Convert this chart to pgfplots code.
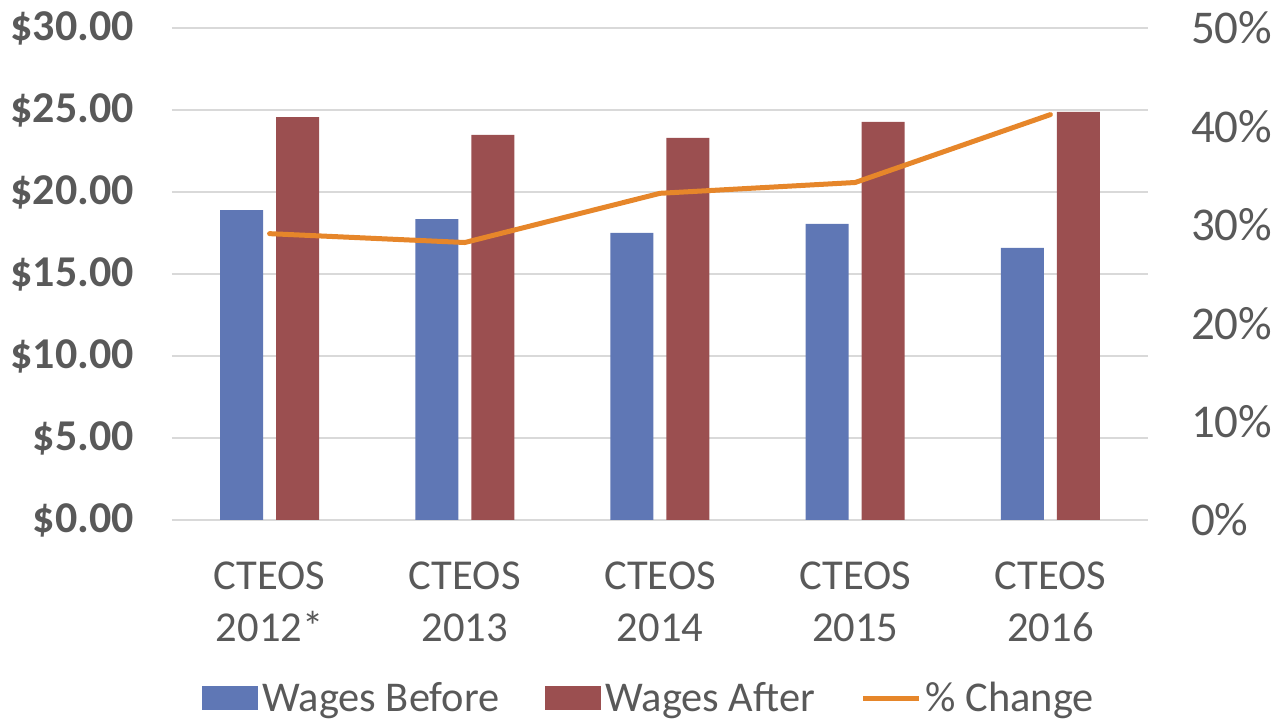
\documentclass[border=0pt]{standalone}
\usepackage{fontspec}
\setmainfont{Carlito}
\usepackage{pgfplots}
\pgfplotsset{compat=1.18}

\definecolor{wbefore}{HTML}{5F77B5}
\definecolor{wafter}{HTML}{9B4F50}
\definecolor{pchange}{HTML}{E6862A}
\definecolor{txt}{HTML}{595959}
\definecolor{gridc}{HTML}{D9D9D9}

\begin{document}
\begin{tikzpicture}
  \path[use as bounding box] (-86pt,-101pt) rectangle (555pt,260pt);
  \begin{axis}[
      scale only axis,
      width=488pt, height=246pt,
      xmin=-0.5, xmax=4.5,
      ymin=0, ymax=30,
      ytick={0,5,...,30},
      xtick={0,...,4},
      xticklabels={{CTEOS\\2012*},{CTEOS\\2013},{CTEOS\\2014},{CTEOS\\2015},{CTEOS\\2016}},
      x tick label style={align=center, text=txt,
        font=\fontsize{21.3pt}{26pt}\selectfont, yshift=-17.5pt},
      yticklabel={\$\pgfmathprintnumber[fixed,fixed zerofill,precision=2,assume math mode=true]{\tick}},
      y tick label style={text=txt, font=\fontsize{22pt}{26pt}\selectfont\bfseries, xshift=-15.5pt},
      major tick length=0pt,
      axis x line*=bottom,
      axis y line*=left,
      y axis line style={draw=none},
      x axis line style={draw=gridc, line width=1pt},
      ymajorgrids,
      grid style={gridc, line width=1pt},
      legend columns=3,
      legend style={at={(0.49,-0.362)}, anchor=center, draw=none, fill=none,
        font=\fontsize{21.2pt}{25pt}\selectfont, text=txt,
        /tikz/every even column/.append style={column sep=21pt},
        nodes={inner sep=2pt}},
      legend cell align=left,
    ]
    % wages before
    \addplot[ybar, bar width=21.5pt, bar shift=-14pt, fill=wbefore, draw=none,
      legend image code/.code={\fill[wbefore] (0pt,-6pt) rectangle (28pt,6pt);}]
      coordinates {(0,18.9) (1,18.35) (2,17.5) (3,18.05) (4,16.6)};
    % wages after
    \addplot[ybar, bar width=21.5pt, bar shift=14pt, fill=wafter, draw=none,
      legend image code/.code={\fill[wafter] (0pt,-6pt) rectangle (28pt,6pt);}]
      coordinates {(0,24.57) (1,23.48) (2,23.3) (3,24.27) (4,24.88)};
    \addlegendimage{legend image code/.code={\draw[pchange, line width=2.5pt] (0pt,0pt) -- (28pt,0pt);}}
    \legend{Wages Before, Wages After, \% Change}
  \end{axis}
  \begin{axis}[
      scale only axis,
      width=488pt, height=246pt,
      xmin=-0.5, xmax=4.5,
      ymin=0, ymax=50,
      ytick={0,10,...,50},
      xtick=\empty,
      axis x line=none,
      axis y line*=right,
      y axis line style={draw=none},
      major tick length=0pt,
      yticklabel={\pgfmathprintnumber[assume math mode=true]{\tick}\%},
      y tick label style={text=txt, font=\fontsize{23.5pt}{28pt}\selectfont, xshift=18pt},
    ]
    \addplot[pchange, line width=2.5pt, line join=round, line cap=round]
      coordinates {(0,29.1) (1,28.2) (2,33.2) (3,34.3) (4,41.2)};
  \end{axis}
\end{tikzpicture}
\end{document}
